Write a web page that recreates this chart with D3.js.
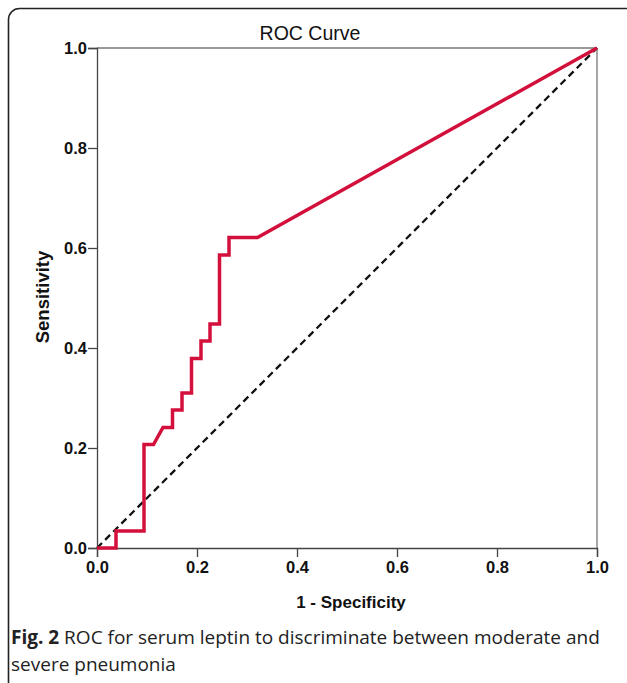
<!DOCTYPE html>
<html><head><meta charset="utf-8">
<script src="https://cdn.jsdelivr.net/npm/d3@7"></script>
<style>html,body{margin:0;padding:0;background:#fff;}svg{display:block;}</style>
</head><body>
<svg id="chart" width="627" height="683"></svg>
<script>
// ROC curve data: 1 - specificity (fpr) and sensitivity (tpr)
const fpr = [0, 0.038, 0.038, 0.094, 0.094, 0.113, 0.132, 0.151, 0.151, 0.170, 0.170, 0.189, 0.189, 0.208, 0.208, 0.226, 0.226, 0.245, 0.245, 0.264, 0.264, 0.321, 1.0];
const tpr = [0, 0, 0.034, 0.034, 0.207, 0.207, 0.241, 0.241, 0.276, 0.276, 0.310, 0.310, 0.379, 0.379, 0.414, 0.414, 0.448, 0.448, 0.586, 0.586, 0.621, 0.621, 1.0];
const refX = [0, 1];
const refY = [0, 1];
const tickValues = [0, 0.2, 0.4, 0.6, 0.8, 1.0];

const svg = d3.select("#chart");
const FONT = "Arial, 'Liberation Sans', sans-serif";

// outer rounded border
svg.append("rect").attr("x", 8.5).attr("y", 8.5).attr("width", 640).attr("height", 700)
  .attr("rx", 11).attr("fill", "none").attr("stroke", "#222").attr("stroke-width", 1.6);

const x = d3.scaleLinear().domain([0, 1]).range([97, 597]);
const y = d3.scaleLinear().domain([0, 1]).range([548, 48]);

// frame (top & right)
svg.append("line").attr("x1", x(0)).attr("x2", x(1)).attr("y1", y(1)).attr("y2", y(1))
  .attr("stroke", "#777").attr("stroke-width", 1.3);
svg.append("line").attr("x1", x(1)).attr("x2", x(1)).attr("y1", y(1)).attr("y2", y(0))
  .attr("stroke", "#777").attr("stroke-width", 1.3);

const fmt = d3.format(".1f");
const xAxis = svg.append("g").attr("transform", `translate(0,${y(0)})`)
  .call(d3.axisBottom(x).tickValues(tickValues).tickFormat(fmt).tickSize(9).tickPadding(4));
const yAxis = svg.append("g").attr("transform", `translate(${x(0)},0)`)
  .call(d3.axisLeft(y).tickValues(tickValues).tickFormat(fmt).tickSize(9).tickPadding(1));
[xAxis, yAxis].forEach(g => {
  g.attr("font-size", null).attr("font-family", null);
  g.select(".domain").attr("stroke", "#444").attr("stroke-width", 1.3);
  g.selectAll(".tick line").attr("stroke", "#444").attr("stroke-width", 1.3);
  g.selectAll(".tick text").style("font-family", FONT)
    .style("font-size", "16.5px").style("font-weight", "bold").attr("fill", "#111");
});

// reference diagonal
const line = d3.line().x(d => x(d[0])).y(d => y(d[1]));
svg.append("path").datum(refX.map((v, i) => [v, refY[i]]))
  .attr("d", line).attr("fill", "none").attr("stroke", "#111")
  .attr("stroke-width", 2.3).attr("stroke-dasharray", "7,4.5");

// ROC curve
svg.append("path").datum(fpr.map((v, i) => [v, tpr[i]]))
  .attr("d", line).attr("fill", "none").attr("stroke", "#d3103c")
  .attr("stroke-width", 3.5).attr("stroke-linejoin", "miter");

// titles
svg.append("text").attr("x", 310).attr("y", 40).attr("text-anchor", "middle")
  .style("font-family", FONT).style("font-size", "19.5px")
  .attr("fill", "#111").text("ROC Curve");
svg.append("text").attr("x", 351).attr("y", 608).attr("text-anchor", "middle")
  .style("font-family", FONT).style("font-size", "17px")
  .style("font-weight", "bold").attr("fill", "#111").text("1 - Specificity");
svg.append("text").attr("transform", "translate(49,297) rotate(-90)").attr("text-anchor", "middle")
  .style("font-family", FONT).style("font-size", "18.5px")
  .style("font-weight", "bold").attr("fill", "#111").text("Sensitivity");

// caption
const cap = svg.append("text").attr("x", 11).attr("y", 644)
  .style("font-family", "'Open Sans', sans-serif").style("font-size", "19px").attr("fill", "#222");
cap.append("tspan").style("font-weight", "bold").text("Fig. 2");
cap.append("tspan").text(" ROC for serum leptin to discriminate between moderate and");
svg.append("text").attr("x", 11).attr("y", 671)
  .style("font-family", "'Open Sans', sans-serif").style("font-size", "19px").attr("fill", "#222")
  .text("severe pneumonia");
</script>
</body></html>
